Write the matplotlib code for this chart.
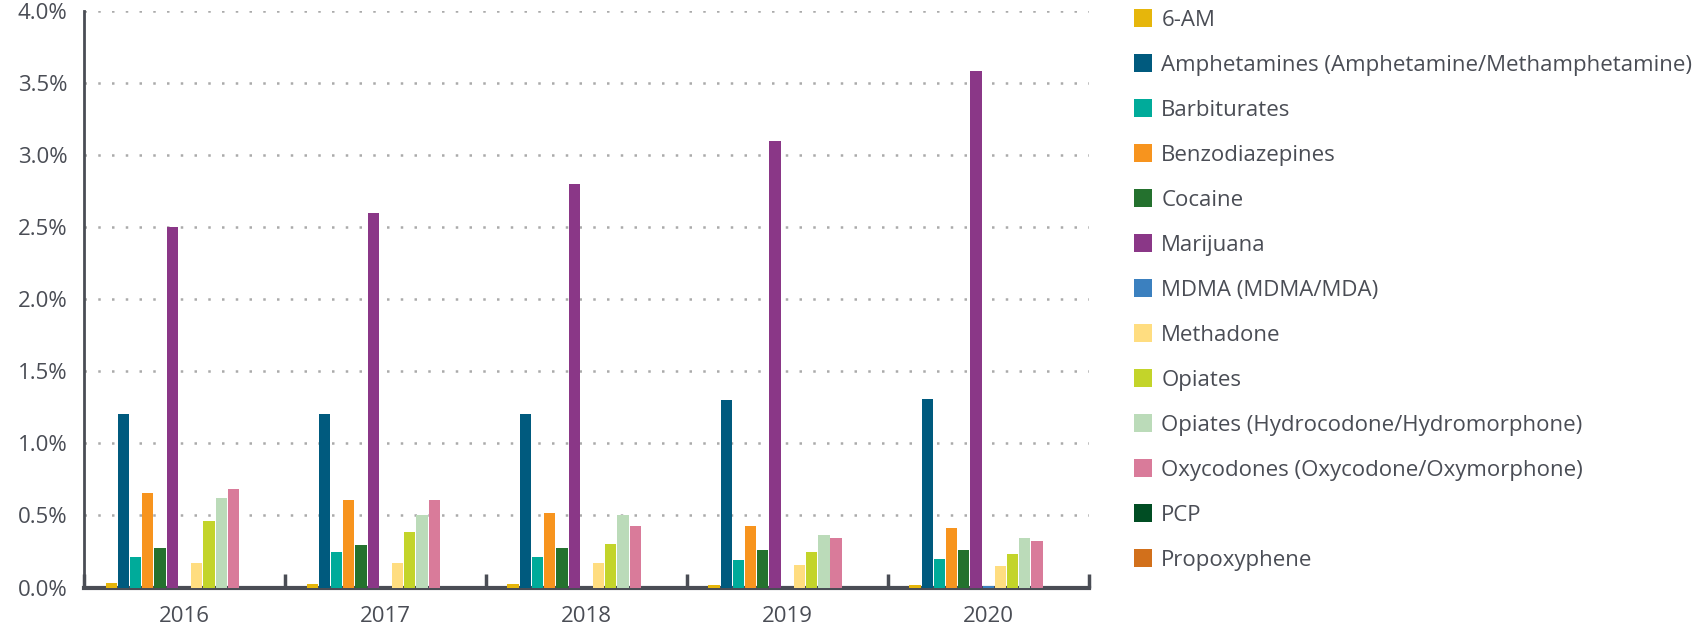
import numpy as np
import matplotlib
matplotlib.use('Agg')
import matplotlib.pyplot as plt
from matplotlib.ticker import FuncFormatter, MultipleLocator

plt.rcParams['font.family'] = ['Open Sans', 'DejaVu Sans']

years = ['2016', '2017', '2018', '2019', '2020']
drugs = ['6-AM',
         'Amphetamines (Amphetamine/Methamphetamine)',
         'Barbiturates',
         'Benzodiazepines',
         'Cocaine',
         'Marijuana',
         'MDMA (MDMA/MDA)',
         'Methadone',
         'Opiates',
         'Opiates (Hydrocodone/Hydromorphone)',
         'Oxycodones (Oxycodone/Oxymorphone)',
         'PCP',
         'Propoxyphene']

# positivity rate in %, one list per drug, 2016..2020
six_am = [0.03, 0.025, 0.025, 0.018, 0.018]
amphetamines = [1.20, 1.20, 1.20, 1.30, 1.31]
barbiturates = [0.21, 0.245, 0.21, 0.19, 0.20]
benzodiazepines = [0.655, 0.61, 0.52, 0.43, 0.415]
cocaine = [0.275, 0.295, 0.275, 0.26, 0.26]
marijuana = [2.50, 2.60, 2.80, 3.10, 3.58]
mdma = [0.0, 0.0, 0.0, 0.0, 0.012]
methadone = [0.17, 0.17, 0.17, 0.155, 0.15]
opiates = [0.46, 0.385, 0.30, 0.245, 0.235]
opiates_hh = [0.62, 0.505, 0.50, 0.365, 0.345]
oxycodones = [0.685, 0.61, 0.43, 0.34, 0.32]
pcp = [0.0, 0.0, 0.0, 0.0, 0.0]
propoxyphene = [0.0, 0.0, 0.0, 0.0, 0.0]

series = [six_am, amphetamines, barbiturates, benzodiazepines, cocaine, marijuana,
          mdma, methadone, opiates, opiates_hh, oxycodones, pcp, propoxyphene]
colors = ['#E6B60B', '#005A7E', '#00AB9A', '#F7941E', '#24712E', '#8A3787',
          '#3B80BF', '#FFDD80', '#C3D42A', '#BBDBB9', '#D97B9A', '#004D23', '#D2701B']

text_col = '#4A4D55'
fs = 16
fig = plt.figure(figsize=(17.01, 6.31), dpi=100)
ax = fig.add_axes([0.0494, 0.0689, 0.5906, 0.9141])

x = np.arange(len(years))
slot = 0.79 / len(series)
handles = []
for i, (vals, c, name) in enumerate(zip(series, colors, drugs)):
    off = (i - (len(series) - 1) / 2) * slot
    b = ax.bar(x + off, vals, width=slot * 0.92, color=c, linewidth=0,
               label=name, zorder=3)
    handles.append(b)

ax.set_xlim(-0.5, len(years) - 0.5)
ax.set_ylim(0, 4.0)
ax.yaxis.set_major_locator(MultipleLocator(0.5))
ax.yaxis.set_major_formatter(FuncFormatter(lambda v, p: '{:.1f}%'.format(v)))
ax.set_xticks(x)
ax.set_xticklabels(years)
ax.set_xticks(np.arange(-0.5, len(years)), minor=True)

for v in np.arange(0.5, 4.01, 0.5):
    ax.axhline(v, color='#AAAAAA', linestyle=(0, (1, 4.5)), linewidth=1.8, zorder=1)

for s in ['top', 'right']:
    ax.spines[s].set_visible(False)
ax.spines['left'].set_color(text_col)
ax.spines['left'].set_linewidth(2)
ax.spines['bottom'].set_color(text_col)
ax.spines['bottom'].set_linewidth(3)
ax.spines['bottom'].set_zorder(2)

ax.tick_params(axis='y', length=0, pad=12, labelsize=fs, labelcolor=text_col)
ax.tick_params(axis='x', which='major', length=0, pad=13, labelsize=fs, labelcolor=text_col)
ax.tick_params(axis='x', which='minor', direction='in', length=10, width=2.5, color=text_col)

fig.legend(handles=handles, labels=drugs, loc='upper left',
           bbox_to_anchor=(1134 / 1701, 0.986), frameon=False, fontsize=fs,
           labelcolor=text_col, handlelength=0.81, handleheight=0.9,
           handletextpad=0.42, labelspacing=1.04, borderaxespad=0, borderpad=0)

fig.savefig('out.png', dpi=100)
